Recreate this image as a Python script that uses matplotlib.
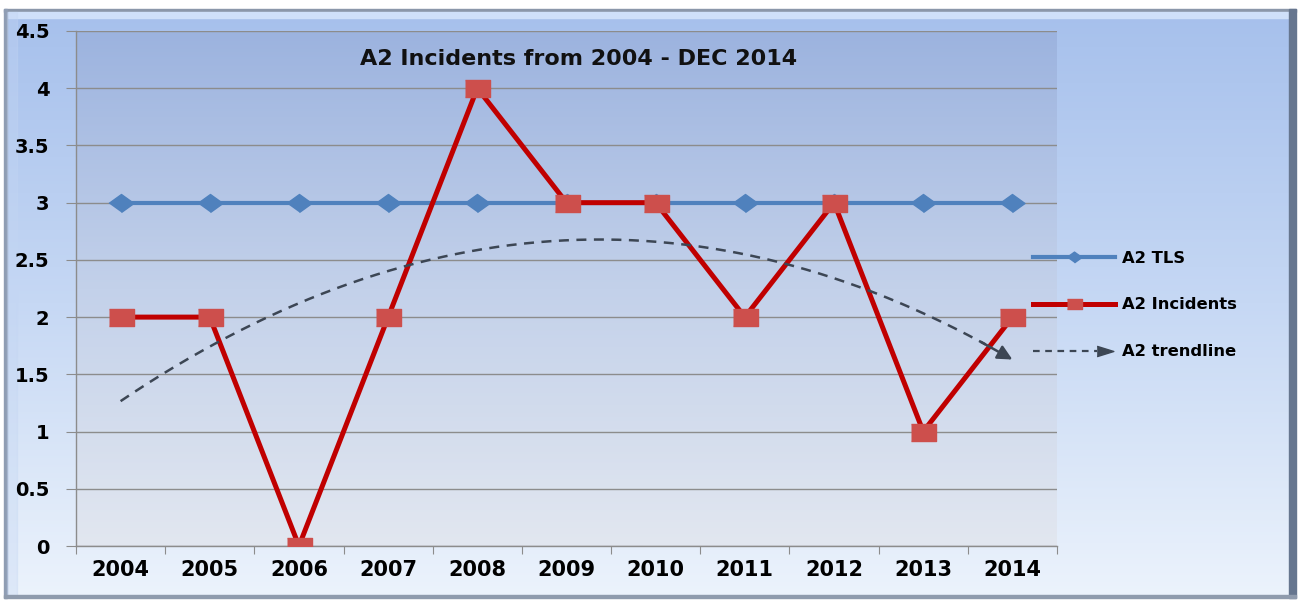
import numpy as np
import matplotlib
matplotlib.use("Agg")
import matplotlib.pyplot as plt
from matplotlib.lines import Line2D
from matplotlib.patches import Rectangle
from matplotlib.legend_handler import HandlerBase
from matplotlib.colors import LinearSegmentedColormap

# data
years = ["2004", "2005", "2006", "2007", "2008", "2009", "2010", "2011", "2012", "2013", "2014"]
tls = [3, 3, 3, 3, 3, 3, 3, 3, 3, 3, 3]
incidents = [2, 2, 0, 2, 4, 3, 3, 2, 3, 1, 2]
yticks = [0, 0.5, 1, 1.5, 2, 2.5, 3, 3.5, 4, 4.5]
title = "A2 Incidents from 2004 - DEC 2014"

plt.rcParams["font.family"] = ["DejaVu Sans"]
plt.rcParams["font.weight"] = "bold"

fig = plt.figure(figsize=(13.01, 6.03), dpi=100)
fig.patch.set_facecolor("white")

# outer frame with gradient and bevel
bg = fig.add_axes([0, 0, 1, 1], zorder=-10)
bg.set_xlim(0, 1301)
bg.set_ylim(603, 0)
bg.axis("off")
frame_cmap = LinearSegmentedColormap.from_list("frame", ["#a6c0ec", "#c6d8f4", "#ecf3fc"])
grad = np.linspace(0, 1, 256).reshape(-1, 1)
bg.imshow(grad, cmap=frame_cmap, extent=[4, 1296, 598, 9], aspect="auto", zorder=0)
bg.add_patch(Rectangle((4, 9), 1292, 3, color="#8b97aa", zorder=1))
bg.add_patch(Rectangle((8, 12), 1282, 6, color="#cfe0fa", zorder=1))
bg.add_patch(Rectangle((4, 9), 3, 589, color="#8f9db3", zorder=1))
bg.add_patch(Rectangle((7, 12), 10, 584, color="#c4d6f3", alpha=0.35, zorder=1))
bg.add_patch(Rectangle((1289, 9), 7, 589, color="#66768f", zorder=1))
bg.add_patch(Rectangle((4, 595), 1292, 3, color="#8f9bad", zorder=1))

fig_h, fig_w = 603, 1301
ax = fig.add_axes([76 / fig_w, 57 / fig_h, 981 / fig_w, 515 / fig_h])
x = np.arange(len(years))

# plot-area gradient
plot_cmap = LinearSegmentedColormap.from_list("plot", ["#9cb3df", "#c3d1ea", "#e2e7f0"])
ax.imshow(grad, cmap=plot_cmap, extent=[-0.5, 10.5, 0, 4.5], aspect="auto", zorder=0)
ax.set_facecolor("none")

diamond = [(-1, 0), (0, 0.72), (1, 0), (0, -0.72)]
rect = [(-1, -0.68), (1, -0.68), (1, 0.68), (-1, 0.68)]

l1, = ax.plot(x, tls, color="#4f81bd", lw=3.0, marker=diamond, ms=18,
              mfc="#4f81bd", mec="#4f81bd", zorder=3, label="A2 TLS")
l2, = ax.plot(x, incidents, color="#c00000", lw=3.6, marker=rect, ms=18,
              mfc="#cd4f4c", mec="#cd4f4c", zorder=4, label="A2 Incidents")

# polynomial (order 2) trendline of the incidents
coef = np.polyfit(x, incidents, 2)
xt = np.linspace(x[0], x[-1], 200)
yt = np.polyval(coef, xt)
trend_color = "#3c4654"
ax.plot(xt[:-6], yt[:-6], color=trend_color, lw=1.8, ls=(0, (4, 3)), zorder=5)
ax.annotate("", xy=(xt[-1], yt[-1]), xytext=(xt[-8], yt[-8]),
            arrowprops=dict(arrowstyle="-|>", color=trend_color, lw=1.8,
                            mutation_scale=22, shrinkA=0, shrinkB=0), zorder=5)

ax.set_xlim(-0.5, 10.5)
ax.set_ylim(0, 4.5)
ax.set_yticks(yticks)
ax.set_yticklabels([f"{v:g}" for v in yticks])
ax.grid(axis="y", color="#8c8c8c", lw=1.0, zorder=1)
ax.set_axisbelow(True)

ax.set_xticks(np.arange(-0.5, 11, 1))
ax.set_xticklabels([])
ax.set_xticks(x, minor=True)
ax.set_xticklabels(years, minor=True)
ax.tick_params(axis="x", which="major", length=6, color="#8c8c8c", direction="out")
ax.tick_params(axis="x", which="minor", length=0, pad=10, labelsize=15)
ax.tick_params(axis="y", length=7, color="#8c8c8c", pad=12, labelsize=14)

for s in ["top", "right"]:
    ax.spines[s].set_visible(False)
for s in ["left", "bottom"]:
    ax.spines[s].set_color("#8c8c8c")
    ax.spines[s].set_linewidth(1.0)

ax.text(0.512, 0.966, title, transform=ax.transAxes, ha="center", va="top",
        fontsize=16, fontweight="bold", color="#111111")


class HandlerArrow(HandlerBase):
    def create_artists(self, legend, orig_handle, xdescent, ydescent,
                       width, height, fontsize, trans):
        y = (height - ydescent) / 2
        ln = Line2D([-xdescent, -xdescent + width * 0.78], [y, y], color=trend_color,
                    lw=1.6, ls=(0, (3, 2.5)), transform=trans)
        head = Line2D([-xdescent + width * 0.88], [y], color=trend_color, ls="",
                      marker=[(-1, -0.62), (1, 0), (-1, 0.62)], ms=12, transform=trans)
        return [ln, head]


trend_handle = Line2D([], [], color=trend_color)
leg = ax.legend([l1, l2, trend_handle], ["A2 TLS", "A2 Incidents", "A2 trendline"],
                handler_map={trend_handle: HandlerArrow()},
                loc="center left", bbox_to_anchor=(1033 / fig_w, 1 - 305 / fig_h),
                bbox_transform=fig.transFigure, frameon=False, fontsize=11.8,
                handlelength=5.0, handletextpad=0.42, labelspacing=1.95,
                markerscale=0.6, borderpad=0, borderaxespad=0)
for t in leg.get_texts():
    t.set_fontweight("bold")

fig.savefig("out.png", dpi=100)
